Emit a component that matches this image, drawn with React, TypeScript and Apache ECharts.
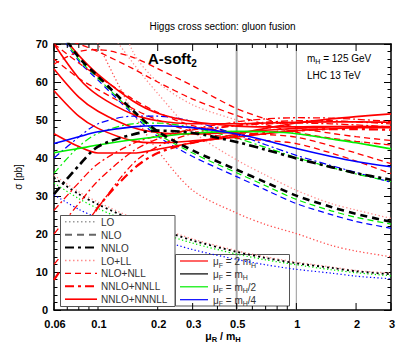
import React, { useEffect, useRef } from "react";
import * as echarts from "echarts";

// ---------- data ----------
const muR = [0.06, 0.08, 0.1, 0.15, 0.2, 0.3, 0.5, 0.7, 1, 1.5, 2, 3];

// fixed order LO (dotted)
const LO_2mH = [35.5, 31.1, 28.4, 24.2, 21.8, 18.7, 15.6, 14.0, 12.6, 11.3, 10.4, 9.7];
const LO_mH = [34.8, 30.5, 27.8, 23.7, 21.4, 18.3, 15.3, 13.7, 12.3, 11.1, 10.2, 9.4];
const LO_mH2 = [33.4, 29.3, 26.7, 22.8, 20.5, 17.6, 14.7, 13.2, 11.9, 10.6, 9.8, 9.0];
const LO_mH4 = [30.3, 26.5, 24.2, 20.6, 18.6, 15.9, 13.3, 11.9, 10.7, 9.7, 8.9, 8.2];
// fixed order NLO (dashed)
const NLO_mH = [76, 66.5, 61.5, 52.5, 47, 42, 36.9, 33.6, 30.1, 27.1, 25.3, 23.2];
const NLO_mH2 = [75.5, 66, 61, 52, 46.4, 41.3, 36.1, 32.7, 29.1, 26.1, 24.4, 22.6];
const NLO_mH4 = [75, 65.5, 60.5, 51.5, 45.7, 40.4, 35.1, 31.6, 28, 25.1, 23.3, 21.5];
// fixed order NNLO (dash-dot)
const NNLO_mH = [30.5, 38, 43, 46.2, 47.2, 46.6, 44.2, 42.2, 39.9, 37.6, 36, 34.3];
const NNLO_mH2 = [36, 43, 46.5, 49, 49.2, 48, 45.2, 42.8, 40.1, 37.5, 35.8, 33.8];
const NNLO_mH4 = [40, 45.5, 49, 51, 51, 49.6, 46.2, 43.5, 40.7, 38, 36.2, 33.6];
// LO+LL (dotted, light red)
const LOLL_a = [100, 88, 78, 65, 57, 47, 39.5, 35.5, 31.5, 28, 26.3, 24.1];
const LOLL_b = [95, 80, 70, 52, 42, 31.5, 25.5, 22.5, 20.1, 17, 15.5, 14];
const LOLL_c = [130, 108, 92, 68, 60, 54, 50, 48, 46.5, 45, 44.3, 43.5];
// NLO+NLL (dashed red)
const NLONLL_a = [64.7, 68, 68.5, 66.5, 63.5, 59, 53, 50.3, 48, 46.5, 45.6, 44.6];
const NLONLL_b = [72, 70, 68, 63.5, 60, 55.5, 51.2, 48.8, 46.8, 45.2, 44.4, 43.4];
const NLONLL_c = [70, 65, 61.5, 55.5, 52, 48.5, 46.8, 46.2, 45.5, 43.2, 41.3, 38.5];
const NLONLL_d = [66, 61, 58, 53, 50, 47, 45.2, 44.6, 43.8, 41.3, 39.2, 35.9];
// NNLO+NNLL (dash-dot red)
const NNLONNLL_a = [26.2, 33.5, 38.5, 43.8, 45.8, 47.4, 48.5, 49, 49.2, 49, 48.7, 48.2];
const NNLONNLL_b = [12, 20, 27, 38.5, 43, 46.5, 48.6, 49.4, 49.8, 49.8, 49.5, 49];
const NNLONNLL_c = [7.9, 18, 27, 37, 41.3, 44, 45.8, 46.6, 47.2, 47.6, 47.6, 47.4];
const NNLONNLL_d = [20, 28, 34, 41.8, 45, 47.6, 49.5, 50.3, 50.6, 50.5, 50.2, 49.6];
// NNLO+NNNLL (solid)
const N3LL_blue = [43.8, 45.6, 46.9, 48.2, 48.5, 48, 46.3, 44.6, 42.5, 40.4, 39.1, 37.7];
const N3LL_green = [41.4, 42.5, 43.4, 44.8, 45.6, 46.5, 47, 46.9, 46.4, 45, 44, 42.4];
const N3LL_red_a = [46.4, 43, 41.3, 41.3, 42.3, 44, 46.3, 47.8, 49.2, 50.3, 50.9, 51.6];
const N3LL_red_b = [70, 61, 56.5, 51.5, 49.8, 49, 49, 49.2, 49.4, 49.5, 49.5, 49.4];
const N3LL_red_c = [75, 67, 62, 55, 51.8, 49.6, 48.4, 48.2, 48.2, 48.3, 48.3, 48.2];
const N3LL_red_d = [63.4, 56, 52.3, 48, 46.7, 46.3, 46.8, 47.3, 47.8, 48.2, 48.3, 48.3];
const N3LL_red_e = [57.7, 51, 47.8, 44.5, 44, 44.5, 45.5, 46.4, 47.2, 47.7, 48, 48];

const X_LABELS = [0.06, 0.1, 0.2, 0.3, 0.5, 1, 2, 3];
const X_MINOR = [0.07, 0.08, 0.09, 0.4, 0.6, 0.7, 0.8, 0.9];
const REF_LINES = [0.5, 1];
const ORDER_LEGEND = ["LO", "NLO", "NNLO", "LO+LL", "NLO+NLL", "NNLO+NNLL", "NNLO+NNNLL"];
const MUF_LEGEND = ["2 m", "m", "m", "m"];
const MUF_SUFFIX = ["", "", "/2", "/4"];

const FONT = "'Liberation Sans', Arial, sans-serif";
const RED = "#ff0000";
const BLACK = "#000000";
const GREEN = "#00ee00";
const BLUE = "#0000ff";
const PINK = "#ff8c8c";

type Sty = "dot" | "dash" | "dashdot" | "solid";
function dashOf(s: Sty, w: number): any {
  if (s === "solid") return "solid";
  if (s === "dot") return w > 1.6 ? [2, 3] : [1.3, 2.4];
  if (s === "dash") return w > 1.6 ? [7, 5] : [6, 4];
  return w > 1.6 ? [9, 4, 3, 4] : [7, 3, 2, 3];
}

function S(name: string, vals: number[], color: string, s: Sty, w: number, z = 2) {
  return {
    name,
    type: "line",
    data: muR.map((x, i) => [x, vals[i]]),
    smooth: 0.3,
    symbol: "none",
    silent: true,
    clip: true,
    z,
    lineStyle: { color, width: w, type: dashOf(s, w) },
  };
}

export default function App() {
  const ref = useRef<HTMLDivElement>(null);
  useEffect(() => {
    document.body.style.margin = "0";
    const chart = echarts.init(ref.current!, undefined, { renderer: "svg" });
    const axisLine = { show: true, onZero: false, lineStyle: { color: "#000", width: 1.5 } };
    const xAx = (pos: string) => ({
      type: "log",
      logBase: 10,
      min: 0.06,
      max: 3,
      position: pos,
      axisLine,
      axisTick: { show: false },
      axisLabel: { show: false },
      splitLine: { show: false },
      minorTick: { show: false },
      minorSplitLine: { show: false },
    });
    const yAx = (pos: string, labels: boolean) => ({
      type: "value",
      min: 0,
      max: 70,
      interval: 10,
      position: pos,
      axisLine,
      axisTick: { show: true, inside: true, length: 7, lineStyle: { color: "#000", width: 1 } },
      minorTick: { show: true, splitNumber: 5, length: 3.5, lineStyle: { color: "#000", width: 1 } },
      axisLabel: {
        show: labels,
        color: "#000",
        fontWeight: "bold",
        fontSize: 11,
        fontFamily: FONT,
        margin: 6,
      },
      splitLine: { show: false },
    });

    const series: any[] = [
      // LO+LL
      S("LO+LL a", LOLL_a, PINK, "dot", 1.3),
      S("LO+LL b", LOLL_b, "#ff5050", "dot", 1.3),
      S("LO+LL c", LOLL_c, PINK, "dot", 1.3),
      // LO
      S("LO 2mH", LO_2mH, "#ff9090", "dot", 1.3),
      S("LO mH/4", LO_mH4, BLUE, "dot", 1.2),
      S("LO mH/2", LO_mH2, GREEN, "dot", 1.2),
      S("LO mH", LO_mH, BLACK, "dot", 1.8),
      // NLO
      S("NLO mH/4", NLO_mH4, BLUE, "dash", 1.2),
      S("NLO mH/2", NLO_mH2, GREEN, "dash", 1.2),
      S("NLO mH", NLO_mH, BLACK, "dash", 2.6, 3),
      // NLO+NLL
      S("NLO+NLL a", NLONLL_a, RED, "dash", 1.3),
      S("NLO+NLL b", NLONLL_b, RED, "dash", 1.3),
      S("NLO+NLL c", NLONLL_c, RED, "dash", 1.3),
      S("NLO+NLL d", NLONLL_d, RED, "dash", 1.3),
      // NNLO+NNLL
      S("NNLO+NNLL a", NNLONNLL_a, RED, "dashdot", 1.3),
      S("NNLO+NNLL b", NNLONNLL_b, RED, "dashdot", 1.3),
      S("NNLO+NNLL c", NNLONNLL_c, RED, "dashdot", 2.2),
      S("NNLO+NNLL d", NNLONNLL_d, RED, "dashdot", 1.3),
      // NNLO
      S("NNLO mH/4", NNLO_mH4, BLUE, "dashdot", 1.2),
      S("NNLO mH/2", NNLO_mH2, GREEN, "dashdot", 1.2),
      S("NNLO mH", NNLO_mH, BLACK, "dashdot", 2.6, 3),
      // NNLO+NNNLL
      S("N3LL red a", N3LL_red_a, RED, "solid", 1.6),
      S("N3LL red b", N3LL_red_b, RED, "solid", 1.6),
      S("N3LL red c", N3LL_red_c, RED, "solid", 1.6),
      S("N3LL red d", N3LL_red_d, RED, "solid", 1.6),
      S("N3LL red e", N3LL_red_e, RED, "solid", 1.6),
      S("N3LL green", N3LL_green, GREEN, "solid", 1.6),
      S("N3LL blue", N3LL_blue, BLUE, "solid", 1.6),
    ];

    chart.setOption({
      animation: false,
      grid: { left: 54, right: 20, top: 44, bottom: 46, containLabel: false },
      xAxis: [xAx("bottom"), xAx("top")],
      yAxis: [yAx("left", true), yAx("right", false)],
      series,
    });

    const px = (v: number) => chart.convertToPixel({ xAxisIndex: 0 } as any, v) as number;
    const py = (v: number) => chart.convertToPixel({ yAxisIndex: 0 } as any, v) as number;
    const yb = py(0);
    const yt = py(70);
    const g: any[] = [];
    const txt = (x: number, y: number, text: string, extra: any = {}, elem: any = {}) =>
      g.push({
        type: "text",
        x,
        y,
        z: 50,
        ...elem,
        style: {
          text,
          fill: "#000",
          fontSize: 10,
          fontFamily: FONT,
          align: "left",
          verticalAlign: "middle",
          ...extra,
        },
      });

    REF_LINES.forEach((v, i) =>
      g.push({
        type: "line",
        z: 1,
        shape: { x1: px(v), y1: yt, x2: px(v), y2: yb },
        style: { stroke: "#a8a8a8", lineWidth: i === 0 ? 2 : 1.2 },
      })
    );
    X_LABELS.forEach((v) => {
      const x = px(v);
      g.push({ type: "line", z: 40, shape: { x1: x, y1: yb, x2: x, y2: yb - 7 }, style: { stroke: "#000", lineWidth: 1 } });
      g.push({ type: "line", z: 40, shape: { x1: x, y1: yt, x2: x, y2: yt + 7 }, style: { stroke: "#000", lineWidth: 1 } });
      txt(x + 1, yb + 8, String(v), { align: "center", verticalAlign: "top", fontWeight: "bold", fontSize: 11 });
    });
    X_MINOR.forEach((v) => {
      const x = px(v);
      g.push({ type: "line", z: 40, shape: { x1: x, y1: yb, x2: x, y2: yb - 4 }, style: { stroke: "#000", lineWidth: 1 } });
      g.push({ type: "line", z: 40, shape: { x1: x, y1: yt, x2: x, y2: yt + 4 }, style: { stroke: "#000", lineWidth: 1 } });
    });

    const sub = {
      n: { fontSize: 10, fontFamily: FONT, verticalAlign: "middle", lineHeight: 14, fill: "#000" },
      s: { fontSize: 7, fontFamily: FONT, verticalAlign: "bottom", lineHeight: 14, fill: "#000" },
    };
    const subB = {
      n: { ...sub.n, fontWeight: "bold", fontSize: 10.5 },
      s: { ...sub.s, fontWeight: "bold", fontSize: 7.5 },
    };

    // title and annotations
    txt(222.5, 26, "Higgs cross section: gluon fusion", { align: "center", fontSize: 10 });
    g.push({
      type: "text",
      x: 148,
      y: 58,
      z: 50,
      style: {
        text: "{n|A-soft}{s|2}",
        align: "left",
        verticalAlign: "middle",
        rich: {
          n: { fontSize: 15, fontWeight: "bold", fontFamily: FONT, verticalAlign: "middle", lineHeight: 20, fill: "#000" },
          s: { fontSize: 10, fontWeight: "bold", fontFamily: FONT, verticalAlign: "bottom", lineHeight: 20, fill: "#000" },
        },
      },
    });
    g.push({
      type: "text",
      x: 307,
      y: 58,
      z: 50,
      style: { text: "{n|m}{s|H}{n| = 125 GeV}", align: "left", verticalAlign: "middle", rich: sub },
    });
    txt(307, 75, "LHC 13 TeV", { fontSize: 10 });
    g.push({
      type: "text",
      x: 18,
      y: 177,
      z: 50,
      rotation: Math.PI / 2,
      style: { text: "σ [pb]", fill: "#000", fontSize: 10, fontFamily: FONT, align: "center", verticalAlign: "middle" },
    });
    g.push({
      type: "text",
      x: 223,
      y: 336,
      z: 50,
      style: { text: "{n|μ}{s|R}{n| / m}{s|H}", align: "center", verticalAlign: "middle", rich: subB },
    });

    // legend 1 (orders)
    const L1 = { x: 60.5, y: 215.5, w: 114.5, h: 91 };
    g.push({
      type: "rect",
      z: 100,
      shape: { x: L1.x, y: L1.y, width: L1.w, height: L1.h },
      style: { fill: "#fff", stroke: "#555", lineWidth: 1 },
    });
    const l1Styles: [string, number, any][] = [
      ["#9a9a9a", 1.5, [1.5, 2.5]],
      ["#666", 2, [7, 5]],
      ["#000", 2, [9, 4, 3, 4]],
      [PINK, 1.3, [1.5, 2.5]],
      [RED, 1.3, [6, 4]],
      [RED, 2, [9, 4, 3, 4]],
      [RED, 1.6, null],
    ];
    ORDER_LEGEND.forEach((lab, i) => {
      const y = 221.8 + i * 12.9;
      const [c, w, d] = l1Styles[i];
      g.push({
        type: "line",
        z: 101,
        shape: { x1: 65, y1: y, x2: 97, y2: y },
        style: { stroke: c, lineWidth: w, lineDash: d },
      });
      g.push({
        type: "text",
        x: 101,
        y: y + 0.5,
        z: 101,
        style: { text: lab, fill: "#333", fontSize: 10, fontFamily: FONT, align: "left", verticalAlign: "middle" },
      });
    });

    // legend 2 (mu_F)
    const L2 = { x: 175.5, y: 254.5, w: 114, h: 51.5 };
    g.push({
      type: "rect",
      z: 1,
      shape: { x: L2.x, y: L2.y, width: L2.w, height: L2.h },
      style: { fill: "none", stroke: "#555", lineWidth: 1 },
    });
    const mufColors = [RED, BLACK, GREEN, BLUE];
    const subG = {
      n: { ...sub.n, fill: "#333" },
      s: { ...sub.s, fill: "#333" },
    };
    MUF_LEGEND.forEach((lab, i) => {
      const y = 261 + i * 12.9;
      g.push({
        type: "line",
        z: 1,
        shape: { x1: 180, y1: y, x2: 208, y2: y },
        style: { stroke: mufColors[i], lineWidth: 1.2 },
      });
      const suffix = MUF_SUFFIX[i] ? `{n|${MUF_SUFFIX[i]}}` : "";
      g.push({
        type: "text",
        x: 213,
        y: y + 0.5,
        z: 1,
        style: {
          text: `{n|μ}{s|F}{n| = ${lab}}{s|H}${suffix}`,
          align: "left",
          verticalAlign: "middle",
          rich: subG,
        },
      });
    });

    chart.setOption({ graphic: g });
    return () => chart.dispose();
  }, []);
  return (
    <div
      ref={ref}
      style={{ position: "absolute", left: 0, top: 0, width: 411, height: 356, background: "#fff" }}
    />
  );
}
